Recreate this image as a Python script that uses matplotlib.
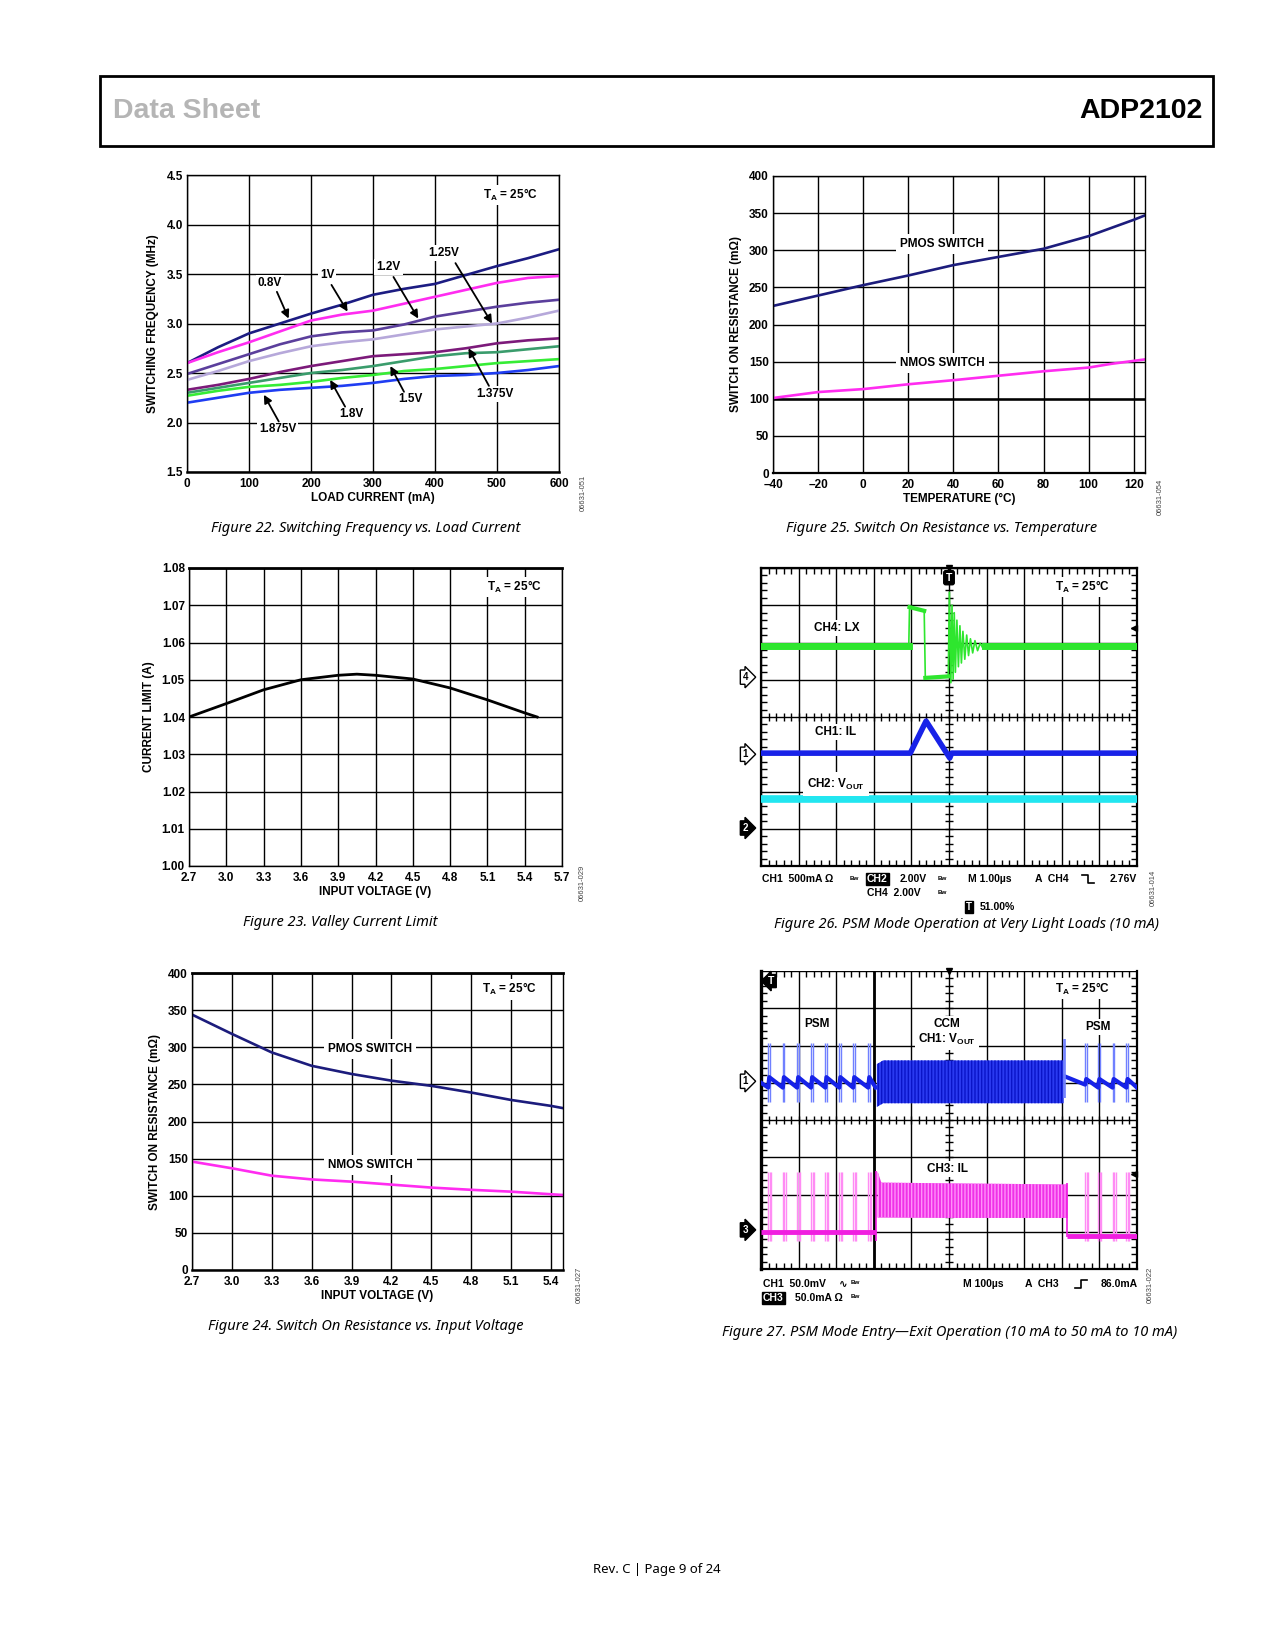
import matplotlib.pyplot as plt
import matplotlib.lines as mlines
import numpy as np

plt.rcParams['font.family'] = ['Liberation Sans', 'DejaVu Sans']
plt.rcParams['font.weight'] = 'bold'
plt.rcParams['axes.labelweight'] = 'bold'
plt.rcParams['font.size'] = 8.5
plt.rcParams['mathtext.fontset'] = 'custom'
plt.rcParams['mathtext.rm'] = 'Liberation Sans:bold'
plt.rcParams['axes.linewidth'] = 1.0

W, H = 1275, 1650

# ---------------- data ----------------
# Figure 22: switching frequency vs load current
load_ma = [0, 50, 100, 150, 200, 250, 300, 350, 400, 450, 500, 550, 600]
freq_08 = [2.60, 2.76, 2.90, 3.00, 3.10, 3.19, 3.29, 3.35, 3.40, 3.49, 3.58, 3.66, 3.75]
freq_10 = [2.60, 2.71, 2.81, 2.92, 3.03, 3.09, 3.13, 3.20, 3.27, 3.34, 3.41, 3.46, 3.48]
freq_12 = [2.49, 2.59, 2.69, 2.79, 2.87, 2.91, 2.93, 2.99, 3.07, 3.12, 3.17, 3.21, 3.24]
freq_125 = [2.43, 2.52, 2.62, 2.70, 2.77, 2.81, 2.84, 2.89, 2.94, 2.97, 3.00, 3.06, 3.13]
freq_1375 = [2.33, 2.38, 2.44, 2.51, 2.57, 2.62, 2.67, 2.69, 2.71, 2.75, 2.80, 2.83, 2.85]
freq_15 = [2.30, 2.35, 2.40, 2.45, 2.50, 2.53, 2.57, 2.62, 2.67, 2.70, 2.71, 2.74, 2.77]
freq_18 = [2.27, 2.32, 2.36, 2.38, 2.41, 2.45, 2.48, 2.52, 2.54, 2.57, 2.60, 2.62, 2.64]
freq_1875 = [2.20, 2.25, 2.30, 2.33, 2.35, 2.37, 2.40, 2.44, 2.47, 2.48, 2.50, 2.53, 2.57]
vout_names = ['0.8V', '1V', '1.2V', '1.25V', '1.375V', '1.5V', '1.8V', '1.875V']
vout_colors = ['#1c1c82', '#ff2cf0', '#5b3f9c', '#b6a8da', '#7c1a7a', '#3a9c6c', '#36ec36', '#1f3df2']
# label text position, arrow tail, arrow head (data units)
lbl_pos = [(134, 3.41), (226, 3.49), (325, 3.57), (414, 3.71), (497, 2.29), (360, 2.24), (265, 2.09), (146, 1.93)]
arr_tail = [(145, 3.32), (233, 3.39), (333, 3.47), (433, 3.61), (487, 2.37), (350, 2.31), (255, 2.16), (148, 2.01)]
arr_head = [(164, 3.05), (259, 3.12), (373, 3.05), (492, 3.00), (454, 2.75), (328, 2.57), (231, 2.43), (124, 2.28)]

# Figure 23: valley current limit
vin_lim = [2.7, 3.0, 3.3, 3.6, 3.9, 4.05, 4.2, 4.5, 4.8, 5.1, 5.4, 5.5]
i_lim = [1.0400, 1.0436, 1.0473, 1.0500, 1.0512, 1.0515, 1.0512, 1.0502, 1.0478, 1.0446, 1.0411, 1.0400]

# Figure 24: switch on resistance vs input voltage
vin_r = [2.7, 3.0, 3.3, 3.6, 3.9, 4.2, 4.5, 4.8, 5.1, 5.4, 5.49]
pmos_v = [344, 318, 293, 275, 264, 255, 248, 239, 229, 221, 218]
nmos_v = [146, 137, 127, 122, 119, 115, 111, 108, 105.5, 102, 101]

# Figure 25: switch on resistance vs temperature
temp_c = [-40, -20, 0, 20, 40, 60, 80, 100, 110, 120, 125]
pmos_t = [225, 239, 253, 266, 280, 291, 302, 319, 330, 341, 347]
nmos_t = [101, 109, 113, 119.5, 125, 131, 137, 142, 147, 151, 153]

# Figure 26: scope trace (divisions)
lx_t = [0, 3.93, 3.95, 4.34, 4.37, 4.98, 5.01, 5.05, 5.08, 5.11, 5.14, 5.17, 5.21, 5.25, 5.29,
        5.33, 5.37, 5.42, 5.47, 5.52, 5.57, 5.63, 5.69, 5.76, 5.83, 5.90, 5.97, 10]
lx_v = [5.90, 5.90, 6.95, 6.85, 5.05, 5.09, 7.35, 4.92, 7.00, 5.02, 6.80, 5.20, 6.60, 5.35, 6.45,
        5.45, 6.30, 5.55, 6.20, 5.65, 6.10, 5.72, 6.05, 5.78, 5.98, 5.85, 5.90, 5.90]
il_t = [0, 3.97, 4.39, 5.02, 5.07, 10]
il_v = [3.03, 3.03, 3.89, 2.90, 3.03, 3.03]
vo_t = [0, 10]
vo_v = [1.80, 1.80]

# Figure 27: PSM entry/exit (divisions)
psm_left = [0.19, 0.58, 0.96, 1.33, 1.71, 2.08, 2.45, 2.85]
psm_right = [8.62, 8.97, 9.35, 9.72]
ccm_t = [3.08, 3.25, 5.0, 8.05]
ccm_top = [5.50, 5.60, 5.60, 5.60]
ccm_bot = [4.35, 4.45, 4.45, 4.45]
ccm_il_t = [3.10, 3.20, 5.0, 8.15]
ccm_il_top = [2.62, 2.32, 2.30, 2.27]
ccm_il_bot = [1.38, 1.38, 1.37, 1.37]

fig = plt.figure(figsize=(12.75, 16.5), dpi=100)


def rect(x0, y0, x1, y1):
    return [x0 / W, 1 - y1 / H, (x1 - x0) / W, (y1 - y0) / H]


def px(x, y):
    return x / W, 1 - y / H


def ftext(x, y, s, **kw):
    fig.text(x / W, 1 - y / H, s, **kw)


def plain_axes(r):
    ax = fig.add_axes(r)
    ax.tick_params(length=0, pad=3, labelsize=8.5)
    ax.tick_params(axis='x', pad=4.5)
    ax.grid(True, color='black', lw=1.0)
    ax.set_axisbelow(True)
    return ax


white = dict(fc='white', ec='none', pad=1.5)
cap = dict(family=['Noto Sans'], style='italic', weight='normal', size=10.5, ha='center', va='center')
idk = dict(rotation=90, size=5.5, weight='normal', color='#444444', ha='center', va='center')

# ---------------- header / footer ----------------
fig.add_artist(plt.Rectangle(px(100, 146), 1113 / W, 70 / H, fill=False, lw=2,
                             transform=fig.transFigure))
ftext(113, 111, 'Data Sheet', color='#b5b5b5', size=20.5, va='center',
      family=['Liberation Sans Narrow', 'Liberation Sans'])
ftext(1203, 111, 'ADP2102', color='black', size=20.5, va='center', ha='right',
      family=['Liberation Sans Narrow', 'Liberation Sans'])
ftext(657, 1569, 'Rev. C | Page 9 of 24', family=['Noto Sans'], weight='normal', size=9.5,
      ha='center', va='center')

# ---------------- Figure 22 ----------------
ax = plain_axes(rect(187, 175, 559, 472))
for vals, c in zip([freq_08, freq_10, freq_12, freq_125, freq_1375, freq_15, freq_18, freq_1875], vout_colors):
    ax.plot(load_ma, vals, color=c, lw=1.9)
ax.set_xlim(0, 600)
ax.set_ylim(1.5, 4.5)
ax.set_xticks(range(0, 601, 100))
ax.set_yticks([1.5, 2.0, 2.5, 3.0, 3.5, 4.0, 4.5])
ax.set_yticklabels(['1.5', '2.0', '2.5', '3.0', '3.5', '4.0', '4.5'])
ax.spines['bottom'].set_linewidth(1.8)
ax.set_xlabel('LOAD CURRENT (mA)', labelpad=1)
ax.set_ylabel('SWITCHING FREQUENCY (MHz)', labelpad=5)
for name, p, t, h in zip(vout_names, lbl_pos, arr_tail, arr_head):
    ax.text(p[0], p[1], name, ha='center', va='center', bbox=white)
    ax.annotate('', xy=h, xytext=t,
                arrowprops=dict(arrowstyle='-|>', color='black', lw=1.3, mutation_scale=12,
                                shrinkA=0, shrinkB=0))
ax.text(521, 4.30, 'T$_{\\mathrm{A}}$ = 25°C', ha='center', va='center', bbox=white)
ftext(366, 529, 'Figure 22. Switching Frequency vs. Load Current', **cap)
ftext(583, 493, '06631-051', **idk)

# ---------------- Figure 25 ----------------
ax = plain_axes(rect(773, 176, 1145, 473))
ax.plot(temp_c, pmos_t, color='#1c1c7c', lw=1.9)
ax.plot(temp_c, nmos_t, color='#ff2cf0', lw=1.9)
ax.axhline(100, color='black', lw=1.8, zorder=1.5)
ax.set_xlim(-40, 125)
ax.set_ylim(0, 400)
ax.set_xticks(range(-40, 121, 20))
ax.set_xticklabels(['\u201340', '\u201320', '0', '20', '40', '60', '80', '100', '120'])
ax.set_yticks(range(0, 401, 50))
ax.spines['bottom'].set_linewidth(1.6)
ax.set_xlabel('TEMPERATURE (°C)', labelpad=1)
ax.set_ylabel('SWITCH ON RESISTANCE (m\u03a9)', labelpad=5)
ax.text(35, 308, 'PMOS SWITCH', ha='center', va='center', bbox=dict(fc='white', ec='none', pad=3))
ax.text(35, 148, 'NMOS SWITCH', ha='center', va='center', bbox=dict(fc='white', ec='none', pad=3))
ftext(942, 529, 'Figure 25. Switch On Resistance vs. Temperature', **cap)
ftext(1160, 497, '06631-054', **idk)

# ---------------- Figure 23 ----------------
ax = plain_axes(rect(189, 568, 562, 866))
ax.plot(vin_lim, i_lim, color='black', lw=2.0)
ax.set_xlim(2.7, 5.7)
ax.set_ylim(1.00, 1.08)
xt = [2.7, 3.0, 3.3, 3.6, 3.9, 4.2, 4.5, 4.8, 5.1, 5.4, 5.7]
ax.set_xticks(xt)
ax.set_xticklabels(['%.1f' % v for v in xt])
yt = [1.00, 1.01, 1.02, 1.03, 1.04, 1.05, 1.06, 1.07, 1.08]
ax.set_yticks(yt)
ax.set_yticklabels(['%.2f' % v for v in yt])
ax.spines['top'].set_linewidth(2.0)
ax.set_xlabel('INPUT VOLTAGE (V)', labelpad=1)
ax.set_ylabel('CURRENT LIMIT (A)', labelpad=5)
ax.text(5.32, 1.0749, 'T$_{\\mathrm{A}}$ = 25°C', ha='center', va='center', bbox=white)
ftext(340, 922, 'Figure 23. Valley Current Limit', **cap)
ftext(582, 883, '06631-029', **idk)

# ---------------- Figure 24 ----------------
ax = plain_axes(rect(192, 973, 563, 1270))
ax.plot(vin_r, pmos_v, color='#1c1c7c', lw=1.9)
ax.plot(vin_r, nmos_v, color='#ff2cf0', lw=1.9)
ax.set_xlim(2.7, 5.49)
ax.set_ylim(0, 400)
xt = [2.7, 3.0, 3.3, 3.6, 3.9, 4.2, 4.5, 4.8, 5.1, 5.4]
ax.set_xticks(xt)
ax.set_xticklabels(['%.1f' % v for v in xt])
ax.set_yticks(range(0, 401, 50))
ax.spines['top'].set_linewidth(2.0)
ax.spines['bottom'].set_linewidth(1.8)
ax.set_xlabel('INPUT VOLTAGE (V)', labelpad=1)
ax.set_ylabel('SWITCH ON RESISTANCE (m\u03a9)', labelpad=5)
ax.text(4.04, 298, 'PMOS SWITCH', ha='center', va='center', bbox=dict(fc='white', ec='none', pad=3))
ax.text(4.04, 141, 'NMOS SWITCH', ha='center', va='center', bbox=dict(fc='white', ec='none', pad=3))
ax.text(5.09, 378, 'T$_{\\mathrm{A}}$ = 25°C', ha='center', va='center', bbox=white)
ftext(366, 1327, 'Figure 24. Switch On Resistance vs. Input Voltage', **cap)
ftext(579, 1285, '06631-027', **idk)


# ---------------- scope helpers ----------------
def scope_axes(r):
    ax = fig.add_axes(r)
    ax.set_xlim(0, 10)
    ax.set_ylim(0, 8)
    ax.set_xticks(range(11))
    ax.set_yticks(range(9))
    ax.set_xticks(np.arange(0, 10.01, 0.2), minor=True)
    ax.set_yticks(np.arange(0, 8.01, 0.2), minor=True)
    ax.tick_params(which='both', direction='in', top=True, right=True,
                   labelbottom=False, labelleft=False)
    ax.tick_params(which='major', length=0)
    ax.tick_params(which='minor', length=4, width=1)
    ax.grid(True, which='major', color='black', lw=1.0)
    ax.set_axisbelow(True)
    cx = np.arange(0.2, 10, 0.2)
    cy = np.arange(0.2, 8, 0.2)
    ax.plot(cx, [4] * len(cx), '|', color='black', ms=6, mew=1, zorder=1)
    ax.plot([5] * len(cy), cy, '_', color='black', ms=6, mew=1, zorder=1)
    for s in ax.spines.values():
        s.set_linewidth(1.6)
    return ax


def ch_marker(ax, level, label, filled):
    fc, tc = ('black', 'white') if filled else ('white', 'black')
    ax.text(-0.42, level, label, ha='center', va='center', size=7, color=tc, clip_on=False,
            bbox=dict(boxstyle='rarrow,pad=0.22', fc=fc, ec='black', lw=1))


def trig_marker(ax, x, y, pointing=None):
    style = 'round,pad=0.2' if pointing is None else 'larrow,pad=0.15'
    ax.text(x, y, 'T', ha='center', va='center', size=7.5, color='white', clip_on=False,
            bbox=dict(boxstyle=style, fc='black', ec='black'))


def edge_glyph(x, y, rising):
    w, h = 12, 8
    if rising:
        xs = [x, x + w / 2, x + w / 2, x + w]
        ys = [y + h / 2, y + h / 2, y - h / 2, y - h / 2]
    else:
        xs = [x, x + w / 2, x + w / 2, x + w]
        ys = [y - h / 2, y - h / 2, y + h / 2, y + h / 2]
    fig.add_artist(mlines.Line2D([v / W for v in xs], [1 - v / H for v in ys], color='black',
                                 lw=1.2, transform=fig.transFigure))


small = dict(size=4.5, va='center')
box_inv = dict(fc='black', ec='black', pad=0.8)

# ---------------- Figure 26 ----------------
ax = scope_axes(rect(761, 568, 1137, 866))
green = '#2ee62e'
ax.plot(lx_t, lx_v, color=green, lw=1.2, zorder=3)
ax.plot(lx_t[:2], lx_v[:2], color=green, lw=5, zorder=3)
ax.plot(lx_t[-2:], lx_v[-2:], color=green, lw=5, zorder=3)
ax.plot(lx_t[2:4], lx_v[2:4], color=green, lw=3, zorder=3)
ax.plot(lx_t[4:6], lx_v[4:6], color=green, lw=3, zorder=3)
ax.plot(il_t, il_v, color='#1822e8', lw=4, zorder=3)
ax.plot(vo_t, vo_v, color='#22e6f0', lw=5.5, zorder=3)
ax.text(2.02, 6.39, 'CH4: LX', ha='center', va='center', bbox=white)
ax.text(1.97, 3.60, 'CH1: IL', ha='center', va='center', bbox=white)
ax.text(2.0, 2.2, 'CH2: V$_{\\mathrm{OUT}}$', ha='center', va='center', bbox=dict(fc='white', ec='none', pad=3))
ax.text(8.56, 7.49, 'T$_{\\mathrm{A}}$ = 25°C', ha='center', va='center', bbox=white)
ch_marker(ax, 5.07, '4', False)
ch_marker(ax, 3.0, '1', False)
ch_marker(ax, 1.02, '2', True)
trig_marker(ax, 5.0, 7.74)
ax.plot([5.0], [8.0], 'v', color='black', ms=5, clip_on=False, zorder=5)
ax.plot([9.93], [6.4], '<', color='black', ms=5, clip_on=False, zorder=5)

ftext(762, 879, 'CH1  500mA \u03a9', size=7.5, va='center')
ftext(850, 878, 'Bw', **small)
ftext(867, 879, 'CH2', size=7.5, va='center', color='white', bbox=box_inv)
ftext(900, 879, '2.00V', size=7.5, va='center')
ftext(938, 878, 'Bw', **small)
ftext(968, 879, 'M 1.00\u00b5s', size=7.5, va='center')
ftext(1035, 879, 'A  CH4', size=7.5, va='center')
edge_glyph(1082, 879, False)
ftext(1137, 879, '2.76V', size=7.5, va='center', ha='right')
ftext(867, 893, 'CH4  2.00V', size=7.5, va='center')
ftext(938, 892, 'Bw', **small)
ftext(966, 907, 'T', size=7, va='center', color='white', bbox=box_inv)
ftext(980, 907, '51.00%', size=7.5, va='center')
ftext(966, 925, 'Figure 26. PSM Mode Operation at Very Light Loads (10 mA)', **cap)
ftext(1153, 888, '06631-014', **idk)

# ---------------- Figure 27 ----------------
ax = scope_axes(rect(761, 971, 1137, 1269))
ax.spines['top'].set_visible(False)
ax.axvline(3.0, color='black', lw=2.0, zorder=1)
ax.spines['left'].set_linewidth(2.4)
blue, lblue = '#1622e8', '#7080ff'
mag, lmag = '#f01ee0', '#ff8cf4'

# VOUT light spikes
for t in psm_left + psm_right:
    ax.vlines([t, t + 0.04], 4.48, 6.06, color=lblue, lw=1.0, zorder=2)
# VOUT sawtooth
saw_t, saw_v = [0.0], [5.0]
for t0, t1 in zip(psm_left, psm_left[1:] + [3.05]):
    saw_t += [t0, t0 + 0.03, t1]
    saw_v += [4.87, 5.15, 4.87]
ax.plot(saw_t, saw_v, color=blue, lw=3, zorder=3)
saw_t, saw_v = [8.08], [5.17]
for t0, t1 in zip(psm_right, psm_right[1:] + [10.0]):
    saw_t += [t0, t0 + 0.03, t1]
    saw_v += [4.95, 5.10, 4.87]
ax.plot(saw_t, saw_v, color=blue, lw=3, zorder=3)
ax.fill_between(ccm_t, ccm_bot, ccm_top, facecolor='#2a3af0', edgecolor='#0a14c8', hatch='|||||',
                lw=0, zorder=3)
ax.vlines([8.05, 8.08], 4.6, 6.17, color=lblue, lw=1.2, zorder=3)

# IL light spikes
for t in psm_left + psm_right:
    ax.vlines([t, t + 0.04, t + 0.08], 0.75, 2.6, color=lmag, lw=1.0, zorder=2)
ax.hlines(1.0, 0, 3.05, color=mag, lw=3.5, zorder=3)
ax.hlines(0.88, 8.15, 10, color=mag, lw=3.5, zorder=3)
ax.fill_between(ccm_il_t, ccm_il_bot, ccm_il_top, facecolor='#f030e8', edgecolor='#ff90f8', hatch='|||||',
                lw=0, zorder=3)
ax.vlines([3.05, 8.15], [0.75, 0.85], [2.62, 2.3], color=mag, lw=1.2, zorder=3)

ax.text(1.49, 6.57, 'PSM', ha='center', va='center', bbox=white)
ax.text(4.95, 6.57, 'CCM', ha='center', va='center', bbox=white)
ax.text(4.95, 6.17, 'CH1: V$_{\\mathrm{OUT}}$', ha='center', va='center', bbox=dict(fc='white', ec='none', pad=2))
ax.text(8.96, 6.5, 'PSM', ha='center', va='center', bbox=white)
ax.text(4.97, 2.68, 'CH3: IL', ha='center', va='center', bbox=white)
ax.text(8.56, 7.53, 'T$_{\\mathrm{A}}$ = 25°C', ha='center', va='center', bbox=white)
ch_marker(ax, 5.04, '1', False)
ch_marker(ax, 1.05, '3', True)
trig_marker(ax, 0.28, 7.73, pointing='left')
ax.plot([5.0], [8.0], 'v', color='black', ms=5, clip_on=False, zorder=5)
ax.plot([9.93], [2.55], '<', color='black', ms=5, clip_on=False, zorder=5)

ftext(763, 1284, 'CH1  50.0mV', size=7.5, va='center')
ftext(839, 1284, '\u223f', size=7.5, va='center', family=['DejaVu Sans'])
ftext(851, 1283, 'Bw', **small)
ftext(963, 1284, 'M 100\u00b5s', size=7.5, va='center')
ftext(1025, 1284, 'A  CH3', size=7.5, va='center')
edge_glyph(1075, 1284, True)
ftext(1138, 1284, '86.0mA', size=7.5, va='center', ha='right')
ftext(763, 1298, 'CH3', size=7.5, va='center', color='white', bbox=box_inv)
ftext(795, 1298, '50.0mA \u03a9', size=7.5, va='center')
ftext(851, 1297, 'Bw', **small)
ftext(950, 1332, 'Figure 27. PSM Mode Entry\u2014Exit Operation (10 mA to 50 mA to 10 mA)', **cap)
ftext(1150, 1285, '06631-022', **idk)

fig.savefig('out.png', dpi=100)
